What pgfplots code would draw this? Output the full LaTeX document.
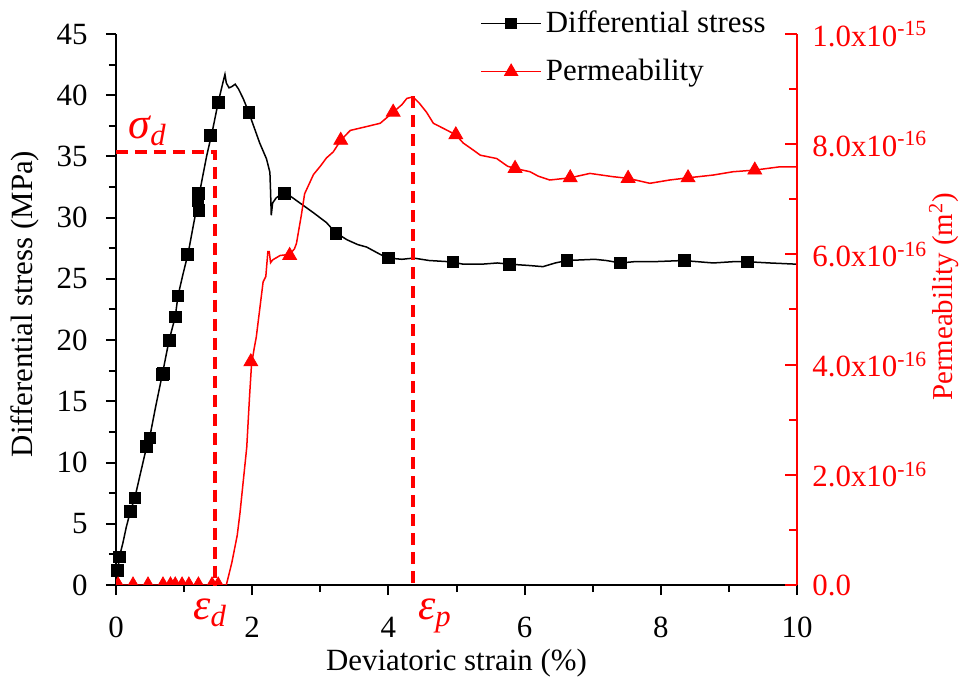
\documentclass[border=0pt]{standalone}
\usepackage{fontspec}
\setmainfont{Liberation Serif}
\usepackage{pgfplots}
\pgfplotsset{compat=1.18}

\pgfplotstableread{
x y
0 0
0.02 1.0
0.05 2.3
0.10 3.4
0.15 4.7
0.21 6.0
0.28 7.2
0.35 8.9
0.45 11.3
0.50 12.2
0.58 14.5
0.68 17.2
0.78 20.0
0.87 21.9
0.91 23.6
0.98 25.3
1.06 27.1
1.14 29.5
1.21 31.5
1.26 33.0
1.33 35.0
1.42 37.2
1.50 39.4
1.56 40.8
1.60 41.7
1.62 41.0
1.66 40.6
1.70 40.7
1.75 40.9
1.80 40.5
1.87 39.7
1.95 38.6
2.02 37.5
2.11 36.1
2.21 34.8
2.26 33.7
2.27 32.1
2.28 30.2
2.30 31.2
2.35 31.6
2.47 32.1
2.60 31.6
2.75 31.0
2.90 30.4
3.09 29.6
3.22 28.8
3.39 28.2
3.55 27.8
3.68 27.6
3.88 27.0
4.00 26.7
4.20 26.6
4.37 26.7
4.60 26.5
4.90 26.4
5.10 26.2
5.37 26.2
5.60 26.3
5.78 26.2
6.05 26.1
6.27 26.0
6.45 26.3
6.62 26.5
7.03 26.6
7.20 26.5
7.41 26.3
7.60 26.4
7.87 26.4
8.33 26.5
8.77 26.3
9.05 26.4
9.27 26.4
9.60 26.3
10.0 26.2
}\stress

\pgfplotstableread{
x y
0.02 1.2
0.05 2.3
0.21 6.0
0.28 7.1
0.45 11.3
0.50 12.0
0.68 17.2
0.70 17.3
0.78 20.0
0.87 21.9
0.91 23.6
1.05 27.0
1.20 31.4
1.21 32.0
1.22 30.6
1.39 36.7
1.50 39.4
1.95 38.6
2.47 32.0
3.23 28.7
4.00 26.7
4.95 26.4
5.78 26.2
6.62 26.5
7.41 26.3
8.35 26.5
9.27 26.4
}\stressmarks

% permeability in units of 1e-16 m^2
\pgfplotstableread{
x y
0 0
1.62 0
1.70 0.4
1.78 0.9
1.82 1.3
1.87 1.9
1.92 2.5
1.96 3.4
1.99 4.0
2.03 4.3
2.06 4.5
2.11 5.0
2.16 5.5
2.20 5.6
2.23 6.05
2.25 6.05
2.27 5.85
2.30 5.9
2.41 5.98
2.55 6.0
2.62 6.1
2.65 6.2
2.72 6.7
2.77 7.1
2.90 7.45
3.00 7.6
3.09 7.75
3.19 7.86
3.30 8.07
3.44 8.25
3.68 8.32
3.88 8.38
4.07 8.58
4.20 8.72
4.27 8.83
4.36 8.86
4.45 8.75
4.56 8.58
4.66 8.38
4.85 8.26
4.99 8.17
5.10 8.02
5.25 7.89
5.35 7.80
5.59 7.74
5.75 7.60
5.86 7.56
6.08 7.50
6.20 7.42
6.37 7.35
6.67 7.39
6.96 7.47
7.30 7.41
7.52 7.38
7.84 7.29
8.13 7.35
8.40 7.39
8.77 7.44
9.06 7.50
9.38 7.53
9.75 7.59
10.0 7.59
}\perm

\pgfplotstableread{
x y
0.03 0
0.25 0
0.47 0
0.69 0
0.80 0
0.87 0
0.97 0
1.07 0
1.21 0
1.41 0
1.50 0
1.98 4.05
2.55 5.98
3.30 8.07
4.07 8.58
4.99 8.17
5.86 7.56
6.67 7.39
7.52 7.38
8.40 7.39
9.38 7.53
}\permmarks

\begin{document}
\fontsize{15.5}{18}\selectfont
\begin{tikzpicture}
\pgfplotsset{
  common/.style={
    scale only axis, width=340.5bp, height=275.5bp,
    at={(0,0)}, anchor=south west,
    xmin=0, xmax=10,
    /pgf/number format/assume math mode=true,
    tick label style={font=\fontsize{15.5}{18}\selectfont},
    label style={font=\fontsize{15.5}{18}\selectfont},
    axis line style={line width=1bp},
  },
}
\begin{axis}[common,
  axis x line*=bottom, axis y line*=left,
  tick align=outside, major tick length=5bp, minor tick length=3.5bp,
  ymin=0, ymax=45, ytick={0,5,...,45}, minor y tick num=1,
  xtick={0,2,...,10}, minor x tick num=1,
  tick style={line width=1bp, black},
  yticklabel style={anchor=east, inner sep=0pt, xshift=-9bp},
  xticklabel style={anchor=north, inner sep=0pt, yshift=-11bp},
  xlabel={Deviatoric strain (\%)},
  xlabel style={at={(axis description cs:0.5,0)}, anchor=base, yshift=-42.5bp, inner sep=0pt},
  ylabel={Differential stress (MPa)},
  ylabel style={at={(axis description cs:-0.134,0.51)}, anchor=center, inner sep=0pt},
  clip=false]
\addplot[black, line width=0.75bp] table {\stress};
\addplot[only marks, mark=square*, mark size=2.9bp, black] table {\stressmarks};
\addplot[red, line width=2bp, dash pattern=on 6bp off 3.5bp] coordinates {(0,35.35) (1.46,35.35) (1.46,0)};
\addplot[red, line width=2bp, dash pattern=on 6bp off 3.5bp] coordinates {(4.36,39.9) (4.36,0)};
\node[red, anchor=base west, font=\fontsize{22}{26}\selectfont\itshape, inner sep=0pt] at (axis cs:0.18,36.5) {σ\textsubscript{d}};
\node[red, anchor=base west, font=\fontsize{22}{26}\selectfont\itshape, inner sep=0pt] at (axis cs:1.13,-2.85) {ε\textsubscript{d}};
\node[red, anchor=base west, font=\fontsize{22}{26}\selectfont\itshape, inner sep=0pt] at (axis cs:4.43,-2.85) {ε\textsubscript{p}};
\end{axis}
\begin{axis}[common,
  axis x line=none, axis y line*=right,
  tick align=inside, major tick length=6bp, minor tick length=4bp,
  ymin=0, ymax=10, ytick={0,2,...,10}, minor y tick num=1,
  yticklabels={0.0, 2.0x10\textsuperscript{-16}, 4.0x10\textsuperscript{-16}, 6.0x10\textsuperscript{-16}, 8.0x10\textsuperscript{-16}, 1.0x10\textsuperscript{-15}},
  y axis line style={red},
  tick style={line width=1bp, red},
  yticklabel style={red, anchor=west, inner sep=0pt, xshift=7.5bp},
  ylabel={Permeability (m\textsuperscript{2})},
  ylabel style={red, at={(axis description cs:1.216,0.523)}, anchor=center, inner sep=0pt, font=\fontsize{14.5}{17}\selectfont},
  clip marker paths=true,
  legend style={at={(0.5345,1.051)}, anchor=north west, draw=none, fill=none,
    font=\fontsize{15.5}{18}\selectfont, row sep=7bp, inner sep=0pt,
    cells={anchor=west}},
  legend image code/.code={\draw[mark repeat=2,mark phase=2,#1] plot coordinates {(0bp,0bp) (15bp,0bp) (30bp,0bp)};}]
\addlegendimage{black, line width=0.75bp, mark=square*, mark size=2.5bp}
\addlegendentry{Differential stress}
\addlegendimage{red, line width=0.75bp, mark=triangle*, mark size=3.5bp}
\addlegendentry{Permeability}
\addplot[red, line width=0.75bp, forget plot] table {\perm};
\addplot[only marks, mark=triangle*, mark size=4bp, red, forget plot] table {\permmarks};
\end{axis}
\pgfresetboundingbox
\path[use as bounding box] (-58bp,-52.5bp) rectangle (422.5bp,292.5bp);
\end{tikzpicture}
\end{document}
